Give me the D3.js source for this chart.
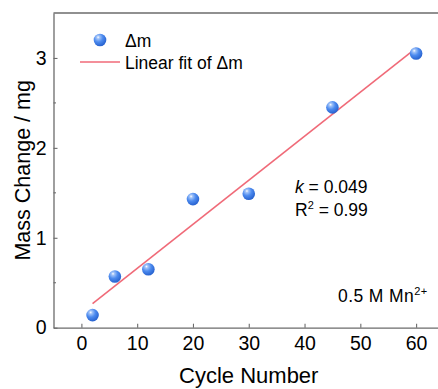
<!DOCTYPE html>
<html>
<head>
<meta charset="utf-8">
<script src="https://cdn.jsdelivr.net/npm/d3@7"></script>
<style>
  html, body { margin: 0; padding: 0; background: #fff; }
  svg { display: block; font-family: "Liberation Sans", Arial, sans-serif; }
</style>
</head>
<body>
<svg id="chart" width="438" height="389"></svg>
<script>
// Mass change versus cycle number
const cycles = [2, 6, 12, 20, 30, 45, 60];
const massChange = [0.14, 0.57, 0.65, 1.43, 1.49, 2.45, 3.05];

// Linear fit of Δm
const fitSlope = 0.049;
const fitIntercept = 0.17;
const fitRange = [2, 60];

const xTicks = [0, 10, 20, 30, 40, 50, 60];
const yTicks = [0, 1, 2, 3];
const yMinorTicks = [0.5, 1.5, 2.5];

const svg = d3.select("#chart");
const margin = { left: 53.5, top: 13 };
const plotW = 390.5, plotH = 314.7;

const x = d3.scaleLinear().domain([-5, 65]).range([margin.left, margin.left + plotW]);
const y = d3.scaleLinear().domain([0, 3.5]).range([margin.top + plotH, margin.top]);

const axisColor = "#6b6b6b";

// sphere shading for the markers
const defs = svg.append("defs");
const grad = defs.append("radialGradient")
  .attr("id", "sphere").attr("cx", "38%").attr("cy", "32%").attr("r", "65%")
  .attr("fx", "35%").attr("fy", "28%");
grad.append("stop").attr("offset", "0%").attr("stop-color", "#ffffff");
grad.append("stop").attr("offset", "18%").attr("stop-color", "#a3c4f8");
grad.append("stop").attr("offset", "55%").attr("stop-color", "#4d8bef");
grad.append("stop").attr("offset", "100%").attr("stop-color", "#2b66d2");

// top frame line
svg.append("line")
  .attr("x1", x(-5)).attr("x2", x(65))
  .attr("y1", y(3.5)).attr("y2", y(3.5))
  .attr("stroke", axisColor).attr("stroke-width", 1.3);

// bottom axis
const gx = svg.append("g")
  .attr("transform", `translate(0,${y(0)})`)
  .call(d3.axisBottom(x).tickValues(xTicks).tickFormat(d3.format("d"))
    .tickSizeInner(-4).tickSizeOuter(0).tickPadding(8));
gx.select(".domain").attr("stroke", axisColor).attr("stroke-width", 1.3);
gx.selectAll(".tick line").attr("stroke", axisColor).attr("stroke-width", 1.1);
gx.selectAll(".tick text").attr("fill", "#000").style("font-size", "19.5px")
  .attr("font-family", "Liberation Sans, Arial, sans-serif");

// left axis
const gy = svg.append("g")
  .attr("transform", `translate(${x(-5)},0)`)
  .call(d3.axisLeft(y).tickValues(yTicks).tickFormat(d3.format("d"))
    .tickSizeInner(-4).tickSizeOuter(0).tickPadding(7));
gy.select(".domain").attr("stroke", axisColor).attr("stroke-width", 1.3);
gy.selectAll(".tick line").attr("stroke", axisColor).attr("stroke-width", 1.1);
gy.selectAll(".tick text").attr("fill", "#000").style("font-size", "19.5px")
  .attr("font-family", "Liberation Sans, Arial, sans-serif");

// minor ticks on the y axis
svg.append("g").selectAll("line").data(yMinorTicks).join("line")
  .attr("x1", x(-5)).attr("x2", x(-5) + 2.5)
  .attr("y1", d => y(d)).attr("y2", d => y(d))
  .attr("stroke", axisColor).attr("stroke-width", 1.1);

// axis titles
svg.append("text")
  .attr("x", x(30)).attr("y", 383)
  .attr("text-anchor", "middle").style("font-size", "22px")
  .text("Cycle Number");

svg.append("text")
  .attr("transform", `translate(30,${y(1.75)}) rotate(-90)`)
  .attr("text-anchor", "middle").style("font-size", "21.5px")
  .text("Mass Change / mg");

// fit line
const fitPts = fitRange.map(v => [v, fitSlope * v + fitIntercept]);
svg.append("path")
  .datum(fitPts)
  .attr("d", d3.line().x(d => x(d[0])).y(d => y(d[1])))
  .attr("fill", "none").attr("stroke", "#f06a78").attr("stroke-width", 1.6);

// data markers
svg.append("g").selectAll("circle").data(cycles.map((c, i) => [c, massChange[i]])).join("circle")
  .attr("cx", d => x(d[0])).attr("cy", d => y(d[1]))
  .attr("r", 6.3).attr("fill", "url(#sphere)");

// legend
const lg = svg.append("g");
lg.append("circle").attr("cx", 100).attr("cy", 40).attr("r", 6.3).attr("fill", "url(#sphere)");
lg.append("text").attr("x", 125).attr("y", 46.5).style("font-size", "17.5px").text("Δm");
lg.append("line").attr("x1", 80).attr("x2", 120).attr("y1", 62).attr("y2", 62)
  .attr("stroke", "#f06a78").attr("stroke-width", 1.6);
lg.append("text").attr("x", 125).attr("y", 68.5).style("font-size", "17.5px").text("Linear fit of Δm");

// fit statistics
const kText = svg.append("text").attr("x", 295).attr("y", 193).style("font-size", "17.5px");
kText.append("tspan").attr("font-style", "italic").text("k");
kText.append("tspan").text(" = " + fitSlope.toFixed(3));

const rText = svg.append("text").attr("x", 295).attr("y", 216).style("font-size", "17.5px");
rText.append("tspan").text("R");
rText.append("tspan").attr("dy", -7).style("font-size", "11px").text("2");
rText.append("tspan").attr("dy", 7).text(" = 0.99");

// electrolyte label
const cText = svg.append("text").attr("x", 338).attr("y", 302)
  .style("font-size", "17.5px").style("letter-spacing", "0.4px");
cText.append("tspan").text("0.5 M Mn");
cText.append("tspan").attr("dy", -7).style("font-size", "11px").text("2+");
</script>
</body>
</html>
